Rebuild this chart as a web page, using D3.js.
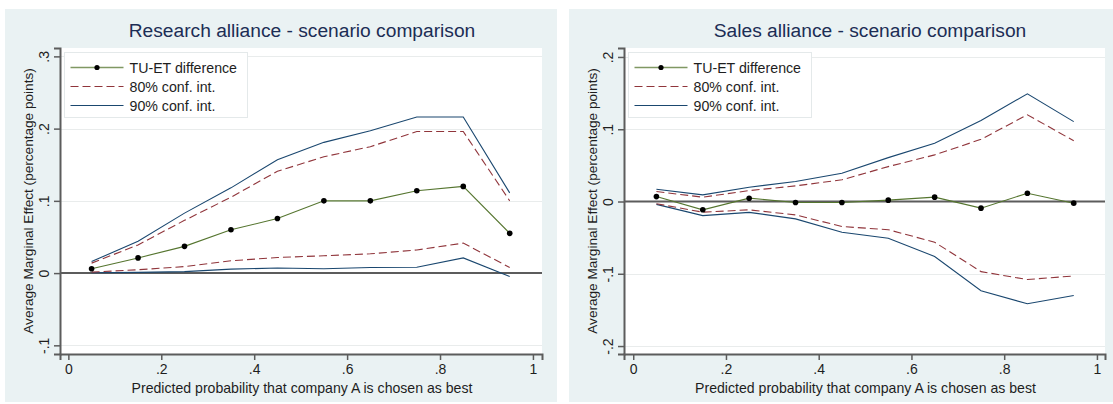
<!DOCTYPE html>
<html>
<head>
<meta charset="utf-8">
<script src="https://cdn.jsdelivr.net/npm/d3@7"></script>
<style>
  html, body { margin: 0; padding: 0; background: #ffffff; }
  svg { display: block; font-family: "Liberation Sans", Arial, sans-serif; }
</style>
</head>
<body>
<svg id="chart" width="1113" height="404"></svg>
<script>
// Predicted probability grid (x) shared by both panels
const probs = [0.05, 0.15, 0.25, 0.35, 0.45, 0.55, 0.65, 0.75, 0.85, 0.95];

// Research alliance
const researchDiff  = [0.006, 0.021, 0.037, 0.060, 0.0755, 0.100, 0.100, 0.114, 0.120, 0.055];
const researchLo80  = [0.0014, 0.0046, 0.009, 0.017, 0.0216, 0.024, 0.0267, 0.032, 0.0415, 0.0078];
const researchHi80  = [0.0138, 0.039, 0.073, 0.105, 0.141, 0.161, 0.175, 0.196, 0.196, 0.100];
const researchLo90  = [0.0004, 0.001, 0.002, 0.0055, 0.007, 0.006, 0.0078, 0.008, 0.021, -0.0047];
const researchHi90  = [0.016, 0.044, 0.083, 0.118, 0.157, 0.181, 0.197, 0.216, 0.216, 0.111];

// Sales alliance
const salesDiff  = [0.0068, -0.0115, 0.0046, -0.0014, -0.0014, 0.0019, 0.006, -0.0092, 0.0115, -0.0023];
const salesLo80  = [-0.003, -0.0148, -0.0115, -0.0185, -0.0346, -0.039, -0.0563, -0.097, -0.108, -0.103];
const salesHi80  = [0.0138, 0.006, 0.0151, 0.0216, 0.030, 0.0483, 0.0645, 0.086, 0.120, 0.084];
const salesLo90  = [-0.004, -0.0195, -0.015, -0.024, -0.0425, -0.0508, -0.076, -0.1235, -0.1415, -0.130];
const salesHi90  = [0.017, 0.0092, 0.0198, 0.0276, 0.039, 0.0607, 0.0806, 0.112, 0.149, 0.1105];

// Tick labels
const xTicks = [0, 0.2, 0.4, 0.6, 0.8, 1];
const researchYTicks = [-0.1, 0, 0.1, 0.2, 0.3];
const salesYTicks = [-0.2, -0.1, 0, 0.1, 0.2];

const legendLabels = ["TU-ET difference", "80% conf. int.", "90% conf. int."];
const xTitle = "Predicted probability that company A is chosen as best";
const yTitle = "Average Marginal Effect (percentage points)";

const colors = { diff: "#55752f", ci80: "#90353b", ci90: "#1a476f" };
const axisColor = "#5c5c5c";
const textColor = "#1e1e1e";

// Stata-style number labels: ".2", "-.1", "0", "1"
function stataFmt(v) {
  const r = Math.round(v * 1000) / 1000;
  if (r === 0) return "0";
  let s = String(r);
  s = s.replace(/^0\./, ".").replace(/^-0\./, "-.");
  return s;
}

const svg = d3.select("#chart");

function drawPanel(cfg) {
  const g = svg.append("g");

  // outer graph region
  g.append("rect")
    .attr("x", cfg.outer.x0).attr("y", cfg.outer.y0)
    .attr("width", cfg.outer.x1 - cfg.outer.x0).attr("height", cfg.outer.y1 - cfg.outer.y0)
    .attr("fill", "#eaf2f3");

  const x = d3.scaleLinear().domain(cfg.xDomain).range([cfg.plot.x0, cfg.plot.x1]);
  const y = d3.scaleLinear().domain(cfg.yDomain).range([cfg.plot.y1, cfg.plot.y0]);

  // plot region
  g.append("rect")
    .attr("x", cfg.plot.x0).attr("y", cfg.plot.y0)
    .attr("width", cfg.plot.x1 - cfg.plot.x0).attr("height", cfg.plot.y1 - cfg.plot.y0)
    .attr("fill", "#ffffff");

  // horizontal gridlines
  g.append("g").selectAll("line")
    .data(cfg.yTicks.filter(v => v !== 0))
    .join("line")
    .attr("x1", cfg.plot.x0).attr("x2", cfg.plot.x1)
    .attr("y1", d => Math.round(y(d)) + 0.5).attr("y2", d => Math.round(y(d)) + 0.5)
    .attr("stroke", "#e9ecec").attr("stroke-width", 1);

  // zero reference line
  g.append("line")
    .attr("x1", cfg.plot.x0).attr("x2", cfg.plot.x1)
    .attr("y1", y(0)).attr("y2", y(0))
    .attr("stroke", axisColor).attr("stroke-width", 2);

  // series lines
  const line = d3.line().x((d, i) => x(probs[i])).y(d => y(d));
  const series = [
    { data: cfg.hi90, color: colors.ci90, dash: null, w: 1.1 },
    { data: cfg.lo90, color: colors.ci90, dash: null, w: 1.1 },
    { data: cfg.hi80, color: colors.ci80, dash: "8,4", w: 1.1 },
    { data: cfg.lo80, color: colors.ci80, dash: "8,4", w: 1.1 },
    { data: cfg.diff, color: colors.diff, dash: null, w: 1.1 }
  ];
  series.forEach(s => {
    g.append("path")
      .datum(s.data)
      .attr("d", line)
      .attr("fill", "none")
      .attr("stroke", s.color)
      .attr("stroke-width", s.w)
      .attr("stroke-dasharray", s.dash);
  });
  g.append("g").selectAll("circle")
    .data(cfg.diff)
    .join("circle")
    .attr("cx", (d, i) => x(probs[i])).attr("cy", d => y(d))
    .attr("r", 2.8).attr("fill", "#000000");

  // axes
  const xAxis = d3.axisBottom(x).tickValues(xTicks).tickFormat(stataFmt).tickSize(6).tickPadding(4);
  const gx = g.append("g").attr("transform", `translate(0,${cfg.plot.y1})`).call(xAxis);
  gx.select(".domain").attr("stroke", axisColor).attr("stroke-width", 2);
  gx.selectAll(".tick line").attr("stroke", axisColor).attr("stroke-width", 1.5);
  gx.selectAll(".tick text").attr("font-size", 14).attr("fill", textColor)
    .attr("font-family", "Liberation Sans, Arial, sans-serif");

  const yAxis = d3.axisLeft(y).tickValues(cfg.yTicks).tickFormat(stataFmt).tickSize(6).tickPadding(5);
  const gy = g.append("g").attr("transform", `translate(${cfg.plot.x0},0)`).call(yAxis);
  gy.select(".domain").attr("stroke", axisColor).attr("stroke-width", 2);
  gy.selectAll(".tick line").attr("stroke", axisColor).attr("stroke-width", 1.5);
  gy.selectAll(".tick text")
    .attr("font-size", 14).attr("fill", textColor)
    .attr("font-family", "Liberation Sans, Arial, sans-serif")
    .attr("x", null).attr("dy", null)
    .attr("text-anchor", "middle")
    .attr("transform", "translate(-11,0) rotate(-90)");

  // titles
  g.append("text")
    .attr("x", (cfg.outer.x0 + cfg.outer.x1) / 2 + cfg.titleShift).attr("y", 36.5)
    .attr("text-anchor", "middle")
    .attr("font-size", 19.2).attr("fill", "#1c2d55")
    .text(cfg.title);

  g.append("text")
    .attr("x", (cfg.plot.x0 + cfg.plot.x1) / 2 + 1).attr("y", 393)
    .attr("text-anchor", "middle")
    .attr("font-size", 14.1).attr("fill", textColor)
    .text(xTitle);

  g.append("text")
    .attr("transform", `translate(${cfg.plot.x0 - 27.5},${(cfg.plot.y0 + cfg.plot.y1) / 2}) rotate(-90)`)
    .attr("text-anchor", "middle")
    .attr("font-size", 13.6).attr("fill", textColor)
    .text(yTitle);

  // legend
  const lg = g.append("g").attr("transform", `translate(${cfg.plot.x0 + 4.5},${52.5})`);
  lg.append("rect").attr("width", 183).attr("height", 65)
    .attr("fill", "#ffffff").attr("stroke", "#e4e9ea").attr("stroke-width", 1);
  const keys = [
    { color: colors.diff, dash: null, dot: true },
    { color: colors.ci80, dash: "8,4", dot: false },
    { color: colors.ci90, dash: null, dot: false }
  ];
  keys.forEach((k, i) => {
    const yy = 15 + i * 19;
    lg.append("line").attr("x1", 6).attr("x2", 59).attr("y1", yy).attr("y2", yy)
      .attr("stroke", k.color).attr("stroke-width", k.dot ? 1.6 : 1.1)
      .attr("stroke-opacity", k.dot ? 0.75 : 1)
      .attr("stroke-dasharray", k.dash);
    if (k.dot) lg.append("circle").attr("cx", 32.5).attr("cy", yy).attr("r", 2.6).attr("fill", "#000");
    lg.append("text").attr("x", 65).attr("y", yy + 5)
      .attr("font-size", 14.2).attr("fill", textColor)
      .text(legendLabels[i]);
  });
}

drawPanel({
  title: "Research alliance - scenario comparison",
  titleShift: 21,
  outer: { x0: 5, x1: 557, y0: 9, y1: 402 },
  plot: { x0: 60, x1: 542, y0: 48, y1: 354 },
  xDomain: [-0.018, 1.0195],
  yDomain: [-0.112, 0.3116],
  yTicks: researchYTicks,
  diff: researchDiff, lo80: researchLo80, hi80: researchHi80, lo90: researchLo90, hi90: researchHi90
});

drawPanel({
  title: "Sales alliance - scenario comparison",
  titleShift: 29,
  outer: { x0: 569, x1: 1113, y0: 9, y1: 402 },
  plot: { x0: 624, x1: 1105, y0: 48, y1: 354 },
  xDomain: [-0.0199, 1.0174],
  yDomain: [-0.211, 0.2124],
  yTicks: salesYTicks,
  diff: salesDiff, lo80: salesLo80, hi80: salesHi80, lo90: salesLo90, hi90: salesHi90
});
</script>
</body>
</html>
